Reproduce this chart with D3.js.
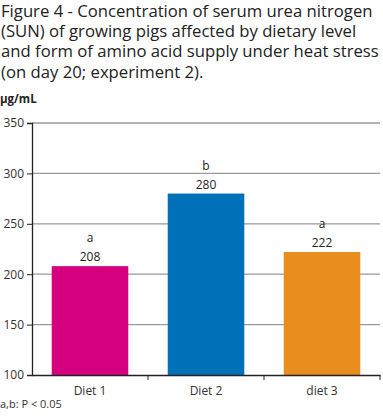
<!DOCTYPE html>
<html>
<head>
<meta charset="utf-8">
<script src="https://cdn.jsdelivr.net/npm/d3@7"></script>
<style>
  body { margin: 0; background: #fff; }
  text { font-family: "Open Sans", sans-serif; }
</style>
</head>
<body>
<div class="chart"></div>
<script>
var svgWidth = 383;
var svgHeight = 420;

// data
var diets = ["Diet 1", "Diet 2", "diet 3"];
var sunValues = [208, 280, 222];
var sigLetters = ["a", "b", "a"];
var barColors = ["#d6007e", "#0070b8", "#e98d1f"];
var yTicks = [100, 150, 200, 250, 300, 350];
var titleLines = [
  "Figure 4 - Concentration of serum urea nitrogen",
  "(SUN) of growing pigs affected by dietary level",
  "and form of amino acid supply under heat stress",
  "(on day 20; experiment 2)."
];

var margin = { top: 123, right: 3, bottom: 45, left: 32 };
var width = svgWidth - margin.left - margin.right;
var height = svgHeight - margin.top - margin.bottom;

var svg = d3.select(".chart")
  .append("svg")
  .attr("width", svgWidth)
  .attr("height", svgHeight);

// title as one text block, sized so the longest line fills the width
var title = svg.append("text")
  .attr("font-size", "16px")
  .attr("fill", "#222");

var titleSpans = title.selectAll("tspan")
  .data(titleLines)
  .enter()
  .append("tspan")
  .attr("x", 1)
  .attr("y", (d, i) => 17 + i * 20.2)
  .text(d => d);

var longest = d3.max(titleSpans.nodes(), n => n.getComputedTextLength());
title.attr("font-size", (16 * 378 / longest) + "px");

svg.append("text")
  .attr("x", 0)
  .attr("y", 103)
  .attr("font-size", "11.5px")
  .attr("font-weight", "bold")
  .attr("fill", "#222")
  .text("µg/mL");

var chartGroup = svg.append("g")
  .attr("transform", `translate(${margin.left}, ${margin.top})`);

var xScale = d3.scaleBand()
  .domain(diets)
  .range([0, width])
  .paddingInner(0.34)
  .paddingOuter(0.17);

var yScale = d3.scaleLinear()
  .domain([100, 350])
  .range([height, 0]);

// gridlines
chartGroup.append("g").selectAll("line")
  .data(yTicks.slice(1))
  .enter()
  .append("line")
  .attr("x1", 0)
  .attr("x2", width)
  .attr("y1", d => yScale(d))
  .attr("y2", d => yScale(d))
  .attr("stroke", "#9a9a9a")
  .attr("stroke-width", 1.3);

// bars
chartGroup.selectAll("rect")
  .data(sunValues)
  .enter()
  .append("rect")
  .attr("x", (d, i) => xScale(diets[i]))
  .attr("y", d => yScale(d))
  .attr("width", xScale.bandwidth())
  .attr("height", d => height - yScale(d))
  .attr("fill", (d, i) => barColors[i]);

// value labels
chartGroup.append("g").selectAll("text")
  .data(sunValues)
  .enter()
  .append("text")
  .attr("x", (d, i) => xScale(diets[i]) + xScale.bandwidth() / 2)
  .attr("y", d => yScale(d) - 5)
  .attr("text-anchor", "middle")
  .attr("font-size", "12px")
  .attr("fill", "#222")
  .text(d => d);

chartGroup.append("g").selectAll("text")
  .data(sigLetters)
  .enter()
  .append("text")
  .attr("x", (d, i) => xScale(diets[i]) + xScale.bandwidth() / 2)
  .attr("y", (d, i) => yScale(sunValues[i]) - 24)
  .attr("text-anchor", "middle")
  .attr("font-size", "12px")
  .attr("fill", "#222")
  .text(d => d);

// axes
var leftAxis = d3.axisLeft(yScale)
  .tickValues(yTicks)
  .tickSize(5)
  .tickPadding(3);

var yAxis = chartGroup.append("g")
  .call(leftAxis);
yAxis.select(".domain").attr("stroke", "#222").attr("stroke-width", 1.3);
yAxis.selectAll(".tick line").attr("stroke", "#222");
yAxis.selectAll(".tick text")
  .attr("font-family", "Open Sans, sans-serif")
  .attr("font-size", "12px")
  .attr("fill", "#333");

var bottomAxis = d3.axisBottom(xScale)
  .tickSize(0)
  .tickPadding(11);

var xAxis = chartGroup.append("g")
  .attr("transform", `translate(0, ${height})`)
  .call(bottomAxis);
xAxis.select(".domain").attr("stroke", "#222").attr("stroke-width", 1.3);
xAxis.selectAll(".tick text")
  .attr("font-family", "Open Sans, sans-serif")
  .attr("font-size", "12px")
  .attr("fill", "#333");

// category separator ticks
xAxis.append("g").selectAll("line")
  .data(diets)
  .enter()
  .append("line")
  .attr("x1", (d, i) => xScale.step() * (i + 1))
  .attr("x2", (d, i) => xScale.step() * (i + 1))
  .attr("y1", 0)
  .attr("y2", 5)
  .attr("stroke", "#222");

svg.append("text")
  .attr("x", 0)
  .attr("y", 408)
  .attr("font-size", "11px")
  .attr("fill", "#333")
  .text("a,b: P < 0.05");
</script>
</body>
</html>
